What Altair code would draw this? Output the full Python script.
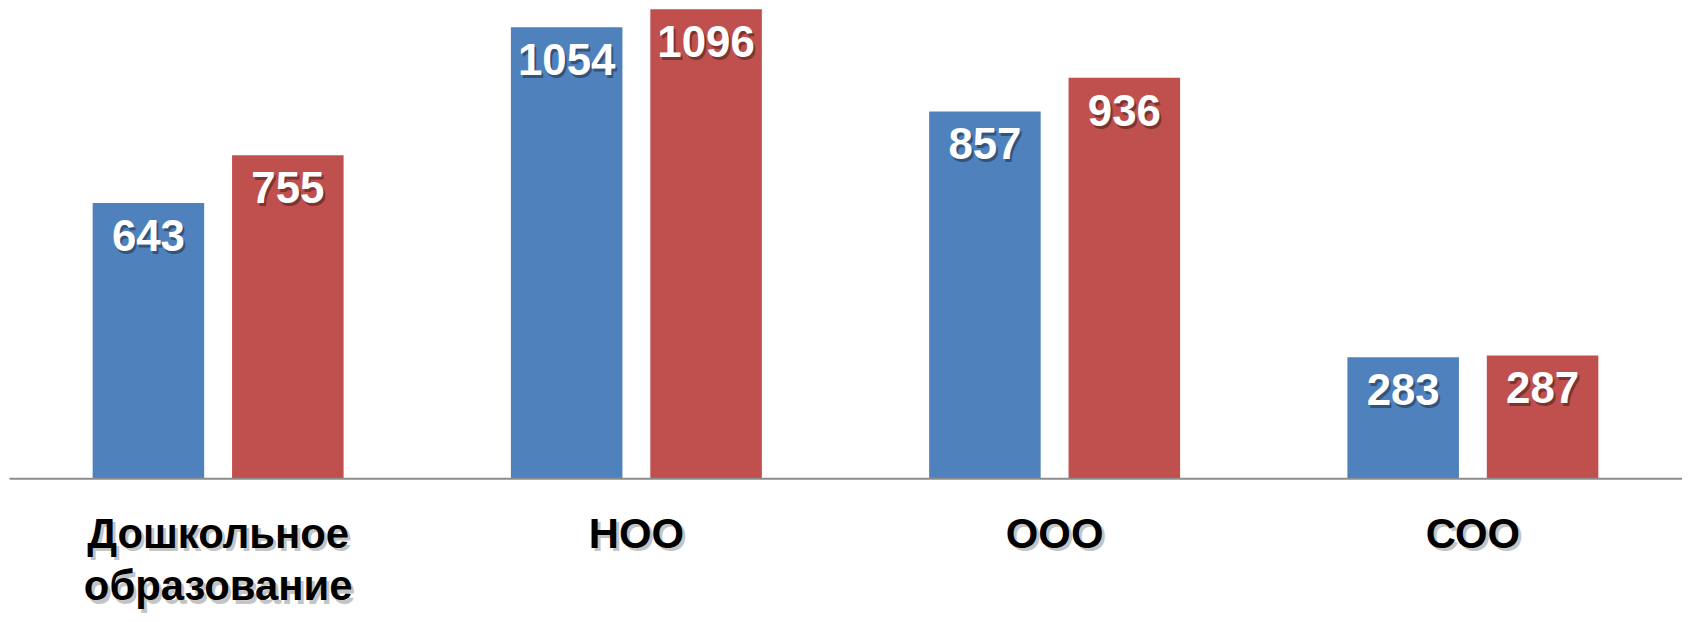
import altair as alt
import pandas as pd

categories = ["Дошкольное образование", "НОО", "ООО", "СОО"]
series = ["Ряд 1", "Ряд 2"]
values_1 = [643, 1054, 857, 283]
values_2 = [755, 1096, 936, 287]
colors = ["#4F81BD", "#C0504D"]

rows = []
for c, v in zip(categories, values_1):
    rows.append({"cat": c, "series": series[0], "value": v})
for c, v in zip(categories, values_2):
    rows.append({"cat": c, "series": series[1], "value": v})
df = pd.DataFrame(rows)

FONT = "Liberation Sans"
label_expr = "split(datum.label, ' ')"

main_axis = alt.Axis(
    orient="bottom", title=None, ticks=False, grid=False,
    domain=True, domainColor="#8c8c8c", domainWidth=2,
    labelFont=FONT, labelFontSize=42, labelFontWeight="bold", labelColor="#000000",
    labelAngle=0, labelBaseline="top", labelPadding=36, labelLineHeight=53,
    labelExpr=label_expr, labelLimit=0, zindex=1,
)
shadow_axis = alt.Axis(
    orient="bottom", title=None, ticks=False, grid=False, domain=False,
    labelFont=FONT, labelFontSize=42, labelFontWeight="bold", labelColor="#555555",
    labelOpacity=0.35, labelAngle=0, labelBaseline="top", labelPadding=40,
    labelOffset=3, labelLineHeight=53, labelExpr=label_expr, labelLimit=0, zindex=0,
)

xscale = alt.Scale(paddingInner=0, paddingOuter=0)
xoff = alt.XOffset("series:N", sort=series,
                   scale=alt.Scale(paddingInner=0.2, paddingOuter=0.6))
yenc = alt.Y("value:Q", scale=alt.Scale(domain=[0, 1096], nice=False, zero=True), axis=None)

base = alt.Chart(df)

shadow_layer = base.mark_text(
    font=FONT, fontSize=44, fontWeight="bold", baseline="alphabetic",
    align="center", dx=2, dy=51, color="#000000", opacity=0.0,
).encode(
    x=alt.X("cat:N", sort=categories, scale=xscale, axis=shadow_axis),
    xOffset=xoff, y=yenc, text=alt.Text("value:Q"),
)

bars = base.mark_bar().encode(
    x=alt.X("cat:N", sort=categories, scale=xscale, axis=main_axis),
    xOffset=xoff, y=yenc,
    color=alt.Color("series:N", sort=series,
                    scale=alt.Scale(domain=series, range=colors), legend=None),
)

shadow_text = base.mark_text(
    font=FONT, fontSize=44, fontWeight="bold", baseline="alphabetic",
    align="center", dx=2, dy=51, color="#000000", opacity=0.35,
).encode(
    x=alt.X("cat:N", sort=categories, scale=xscale, axis=main_axis),
    xOffset=xoff, y=yenc, text=alt.Text("value:Q"),
)

labels = base.mark_text(
    font=FONT, fontSize=44, fontWeight="bold", baseline="alphabetic",
    align="center", dy=48, color="#ffffff",
).encode(
    x=alt.X("cat:N", sort=categories, scale=xscale, axis=main_axis),
    xOffset=xoff, y=yenc, text=alt.Text("value:Q"),
)

chart = alt.layer(
    alt.layer(shadow_layer),
    alt.layer(bars, shadow_text, labels),
).resolve_axis(x="independent").properties(
    width=1680, height=471,
    padding={"left": 1, "top": 0, "right": 0, "bottom": 0},
    background="#ffffff",
).configure_view(stroke=None)

chart.save("out.html", embed_options={"renderer": "svg", "actions": False})
